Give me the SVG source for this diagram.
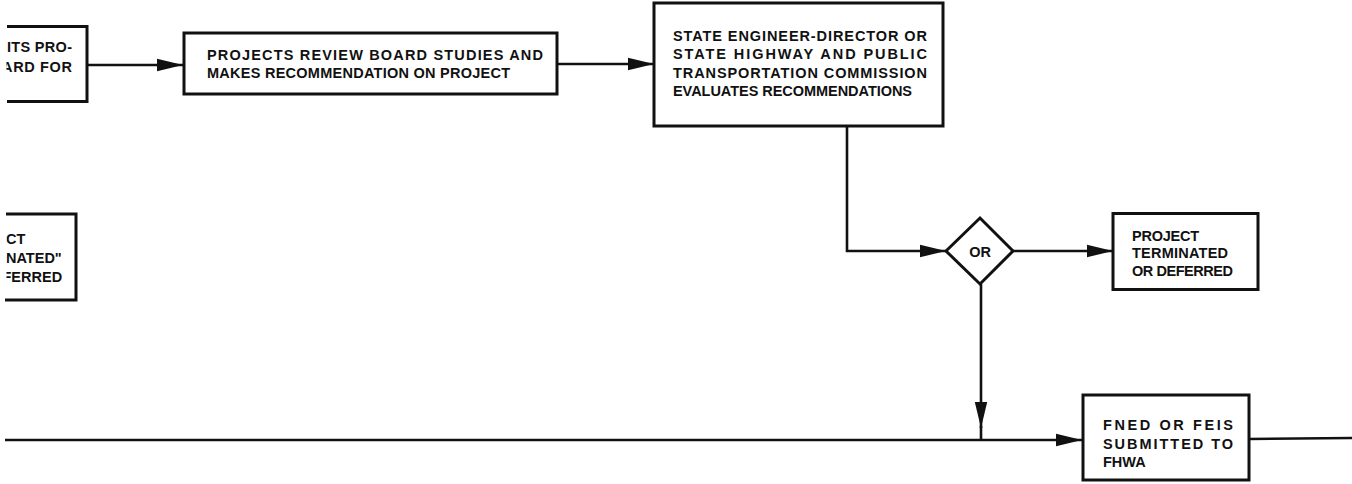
<svg xmlns="http://www.w3.org/2000/svg" width="1352" height="484" viewBox="0 0 1352 484">
<style>
.box{fill:#fff;stroke:#111;stroke-width:3}
.ln{fill:none;stroke:#111;stroke-width:2.6}
text{font-family:"Liberation Sans",Arial,sans-serif;font-weight:bold;font-size:14.5px;fill:#111}
.b4{font-size:14.5px}
</style>
<defs>
<marker id="ah" markerUnits="userSpaceOnUse" markerWidth="28" markerHeight="14" refX="26" refY="7" orient="auto">
<path d="M0,0.8 L26,7 L0,13.2 z" fill="#111"/>
</marker>
<clipPath id="lc"><rect x="6.5" y="0" width="200" height="484"/></clipPath>
</defs>
<rect width="1352" height="484" fill="#fff"/>
<g id="connectors">
<line class="ln" x1="88" y1="65" x2="183" y2="65" marker-end="url(#ah)"/>
<line class="ln" x1="557" y1="64" x2="654" y2="64" marker-end="url(#ah)"/>
<polyline class="ln" points="847,126 847,251 946,251" marker-end="url(#ah)"/>
<line class="ln" x1="1013" y1="251" x2="1113" y2="251" marker-end="url(#ah)"/>
<line class="ln" x1="981" y1="284" x2="981" y2="428" marker-end="url(#ah)"/>
<line class="ln" x1="981" y1="426" x2="981" y2="440"/>
<line class="ln" x1="5" y1="440" x2="1082" y2="440" marker-end="url(#ah)"/>
<line class="ln" x1="1249" y1="439" x2="1352" y2="438"/>
</g>
<g id="node-submit">
<polyline class="box" points="7,26.5 87,26.5 87,101.5 7,101.5"/>
<g clip-path="url(#lc)">
<text x="7" y="52" textLength="65" lengthAdjust="spacing">ITS PRO-</text>
<text x="2" y="72" textLength="70" lengthAdjust="spacing">ARD FOR</text>
</g>
</g>
<g id="node-terminated-left">
<polyline class="box" points="6,214 76,214 76,300 5,300"/>
<g clip-path="url(#lc)">
<text x="6" y="243.5">CT</text>
<text x="6" y="263">NATED"</text>
<text x="2.5" y="282">FERRED</text>
</g>
</g>
<g id="node-review-board">
<rect class="box" x="184" y="33" width="373" height="61"/>
<text x="207" y="59.5" textLength="336" lengthAdjust="spacing">PROJECTS REVIEW BOARD STUDIES AND</text>
<text x="207" y="77.5" textLength="303" lengthAdjust="spacing">MAKES RECOMMENDATION ON PROJECT</text>
</g>
<g id="node-state-engineer">
<rect class="box" x="654" y="3" width="289" height="123"/>
<text x="673" y="40.5" textLength="254" lengthAdjust="spacing">STATE ENGINEER-DIRECTOR OR</text>
<text x="673" y="59" textLength="254" lengthAdjust="spacing">STATE HIGHWAY AND PUBLIC</text>
<text x="673" y="77.5" textLength="254" lengthAdjust="spacing">TRANSPORTATION COMMISSION</text>
<text x="673" y="96" textLength="239" lengthAdjust="spacing">EVALUATES RECOMMENDATIONS</text>
</g>
<g id="node-or">
<polygon class="box" points="946,251 980,218 1013,251 980,284"/>
<text x="980" y="256.5" text-anchor="middle">OR</text>
</g>
<g id="node-terminated">
<rect class="box" x="1113" y="213.5" width="145" height="76"/>
<text class="b4" x="1132" y="240.5" textLength="67" lengthAdjust="spacing">PROJECT</text>
<text class="b4" x="1132" y="258" textLength="96" lengthAdjust="spacing">TERMINATED</text>
<text class="b4" x="1132" y="276" textLength="101" lengthAdjust="spacing">OR DEFERRED</text>
</g>
<g id="node-fned">
<rect class="box" x="1083" y="395" width="166" height="85"/>
<text x="1103" y="429.5" textLength="130" lengthAdjust="spacing">FNED OR FEIS</text>
<text x="1103" y="448.5" textLength="130" lengthAdjust="spacing">SUBMITTED TO</text>
<text x="1103" y="466.5">FHWA</text>
</g>
</svg>
